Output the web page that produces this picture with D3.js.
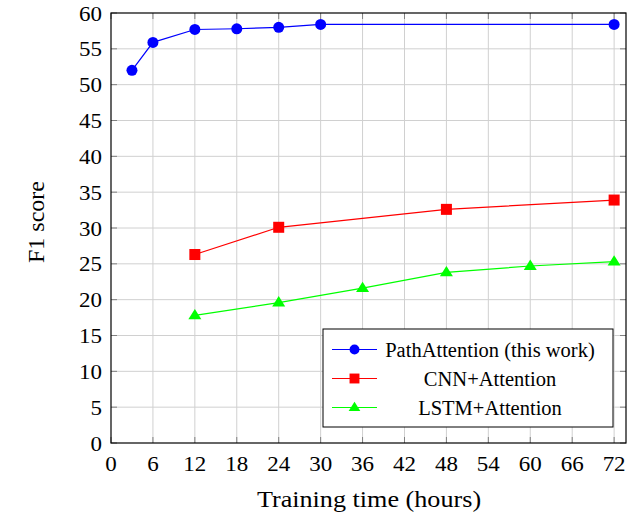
<!DOCTYPE html>
<html>
<head>
<meta charset="utf-8">
<script src="https://cdn.jsdelivr.net/npm/d3@7"></script>
<style>
  body { margin: 0; background: white; }
</style>
</head>
<body>
<div id="chart"></div>
<script>
// Data
const pathHours = [3, 6, 12, 18, 24, 30, 72];
const pathF1 = [52.0, 55.9, 57.7, 57.8, 58.0, 58.4, 58.4];
const cnnHours = [12, 24, 48, 72];
const cnnF1 = [26.3, 30.1, 32.6, 33.9];
const lstmHours = [12, 24, 36, 48, 60, 72];
const lstmF1 = [17.8, 19.6, 21.6, 23.8, 24.7, 25.3];
const xTicks = d3.range(0, 73, 6);
const yTicks = d3.range(0, 61, 5);
const seriesNames = ["PathAttention (this work)", "CNN+Attention", "LSTM+Attention"];

const width = 627, height = 515;
const margin = {left: 111, right: 1, top: 13, bottom: 72};
const serif = "'Liberation Serif', 'Times New Roman', Times, serif";

const svg = d3.select("#chart").append("svg")
  .attr("width", width)
  .attr("height", height)
  .style("font-family", serif);

const x = d3.scaleLinear().domain([0, 73.7]).range([margin.left, width - margin.right]);
const y = d3.scaleLinear().domain([0, 60]).range([height - margin.bottom, margin.top]);

const x0 = x.range()[0], x1 = x.range()[1];
const y0 = y.range()[0], y1 = y.range()[1];

// Grid
svg.append("g").selectAll("line")
  .data(xTicks.slice(1))
  .enter().append("line")
  .attr("x1", d => x(d)).attr("x2", d => x(d))
  .attr("y1", y0).attr("y2", y1)
  .attr("stroke", "#d0d0d0").attr("stroke-width", 1);

svg.append("g").selectAll("line")
  .data(yTicks.slice(1, -1))
  .enter().append("line")
  .attr("x1", x0).attr("x2", x1)
  .attr("y1", d => y(d)).attr("y2", d => y(d))
  .attr("stroke", "#d0d0d0").attr("stroke-width", 1);

// Tick marks on all sides, pointing inward
const tl = 6;
const ticks = svg.append("g").attr("stroke", "#808080").attr("stroke-width", 1);
xTicks.forEach(t => {
  ticks.append("line").attr("x1", x(t)).attr("x2", x(t)).attr("y1", y0).attr("y2", y0 - tl);
  ticks.append("line").attr("x1", x(t)).attr("x2", x(t)).attr("y1", y1).attr("y2", y1 + tl);
});
yTicks.forEach(t => {
  ticks.append("line").attr("x1", x0).attr("x2", x0 + tl).attr("y1", y(t)).attr("y2", y(t));
  ticks.append("line").attr("x1", x1).attr("x2", x1 - tl).attr("y1", y(t)).attr("y2", y(t));
});

// Axis frame
svg.append("rect")
  .attr("x", x0).attr("y", y1)
  .attr("width", x1 - x0).attr("height", y0 - y1)
  .attr("fill", "none").attr("stroke", "black").attr("stroke-width", 1.2);

// Tick labels (reference glyphs are slightly wide, so stretch a bit)
const sx = 1.07;
svg.append("g").selectAll("text")
  .data(xTicks)
  .enter().append("text")
  .attr("transform", d => `translate(${x(d)}, ${y0 + 28}) scale(${sx}, 1)`)
  .attr("text-anchor", "middle")
  .style("font-size", "21.5px")
  .text(d => d);

svg.append("g").selectAll("text")
  .data(yTicks)
  .enter().append("text")
  .attr("transform", d => `translate(${x0 - 9}, ${y(d) + 7.5}) scale(${sx}, 1)`)
  .attr("text-anchor", "end")
  .style("font-size", "21.5px")
  .text(d => d);

// Axis titles
svg.append("text")
  .attr("transform", `translate(369, 507) scale(1.09, 1)`)
  .attr("text-anchor", "middle")
  .style("font-size", "24px")
  .text("Training time (hours)");

svg.append("text")
  .attr("transform", `translate(44, 222) rotate(-90)`)
  .attr("text-anchor", "middle")
  .style("font-size", "24px")
  .text("F1 score");

const line = d3.line().x(d => x(d[0])).y(d => y(d[1]));

const series = [
  {name: seriesNames[0], color: "#0000ff", shape: "circle", pts: d3.zip(pathHours, pathF1)},
  {name: seriesNames[1], color: "#ff0000", shape: "square", pts: d3.zip(cnnHours, cnnF1)},
  {name: seriesNames[2], color: "#00ff00", shape: "triangle", pts: d3.zip(lstmHours, lstmF1)}
];

function drawMarker(g, shape, color, cx, cy, k) {
  k = k || 1;
  if (shape === "circle") {
    g.append("circle").attr("cx", cx).attr("cy", cy).attr("r", 5.5 * k).attr("fill", color);
  } else if (shape === "square") {
    const h = 5.5 * k;
    g.append("rect").attr("x", cx - h).attr("y", cy - h).attr("width", 2 * h).attr("height", 2 * h).attr("fill", color);
  } else {
    const s = 6.5 * k;
    g.append("path")
      .attr("d", `M${cx},${cy - s} L${cx + s},${cy + s * 0.6} L${cx - s},${cy + s * 0.6} Z`)
      .attr("fill", color);
  }
}

series.forEach(s => {
  svg.append("path")
    .attr("d", line(s.pts))
    .attr("fill", "none")
    .attr("stroke", s.color)
    .attr("stroke-width", 1.2);
  const g = svg.append("g");
  s.pts.forEach(p => drawMarker(g, s.shape, s.color, x(p[0]), y(p[1])));
});

// Legend
const lg = svg.append("g");
lg.append("rect")
  .attr("x", 323).attr("y", 329)
  .attr("width", 290).attr("height", 98)
  .attr("fill", "white").attr("stroke", "black").attr("stroke-width", 1);

series.forEach((s, i) => {
  const cy = 349.5 + i * 29;
  lg.append("line")
    .attr("x1", 332).attr("x2", 377)
    .attr("y1", cy).attr("y2", cy)
    .attr("stroke", s.color).attr("stroke-width", 1.2);
  drawMarker(lg, s.shape, s.color, 354.5, cy, 0.9);
  lg.append("text")
    .attr("x", 490).attr("y", cy + 7)
    .attr("text-anchor", "middle")
    .style("font-size", "20.5px")
    .text(s.name);
});
</script>
</body>
</html>
